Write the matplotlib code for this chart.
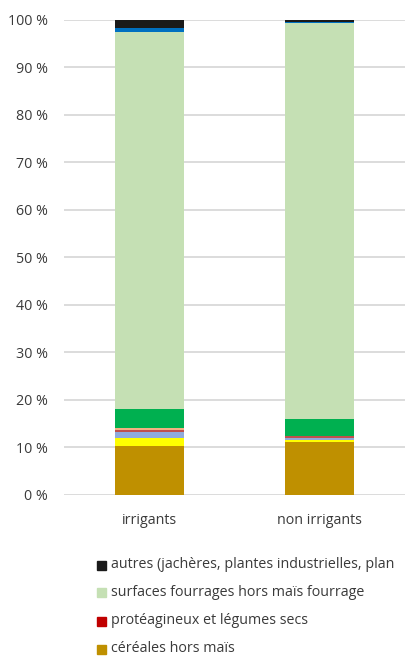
import matplotlib
matplotlib.use("Agg")
import matplotlib.pyplot as plt
import numpy as np

plt.rcParams['font.family'] = ['Open Sans', 'DejaVu Sans']

categories = ["irrigants", "non irrigants"]

series_names = [
    "céréales hors maïs",
    "maïs grain",
    "oléagineux",
    "protéagineux et légumes secs",
    "cultures légumières",
    "maïs fourrage",
    "surfaces fourrages hors maïs fourrage",
    "vignes et vergers",
    "autres (jachères, plantes industrielles, plan",
]
series_colors = ["#BF9000", "#FFFF00", "#8FAADC", "#C0504D", "#F4B183",
                 "#00B050", "#C5E0B4", "#0070C0", "#1A1A1A"]

irrigants = [10.2, 1.7, 1.2, 0.4, 0.6, 3.9, 79.5, 0.7, 1.8]
non_irrigants = [11.0, 0.4, 0.6, 0.3, 0.0, 3.5, 83.6, 0.1, 0.5]

# legend shows only these entries (top to bottom)
legend_items = [8, 6, 3, 0]
legend_colors = {3: "#C00000"}

text_col = "#3A3A3A"

fig = plt.figure(figsize=(4.06, 6.57), dpi=100)
ax = fig.add_axes([64 / 406, 1 - 494.5 / 657, 341 / 406, (494.5 - 19.7) / 657])

x = np.arange(len(categories))
data = np.array([irrigants, non_irrigants])
bottom = np.zeros(len(categories))
for i, name in enumerate(series_names):
    ax.bar(x, data[:, i], width=0.406, bottom=bottom, color=series_colors[i],
           edgecolor="none", zorder=3, label=name)
    bottom += data[:, i]

ax.set_xlim(-0.5, 1.5)
ax.set_ylim(0, 100)
ax.set_yticks(range(0, 101, 10))
ax.set_yticklabels([f"{v} %" for v in range(0, 101, 10)])
ax.set_xticks(x)
ax.set_xticklabels(categories)
ax.yaxis.grid(True, color="#D9D9D9", linewidth=1.3, zorder=0)
ax.tick_params(axis="both", length=0, colors=text_col, labelsize=10.3)
ax.tick_params(axis="y", pad=11.5)
ax.tick_params(axis="x", pad=13)
for s in ax.spines.values():
    s.set_visible(False)

# legend drawn by hand
ys = [565, 592, 621, 649]
for idx, y in zip(legend_items, ys):
    col = legend_colors.get(idx, series_colors[idx])
    fig.patches.append(plt.Rectangle((97 / 406, 1 - (y + 4.5) / 657), 9 / 406, 9 / 657,
                                     transform=fig.transFigure, color=col))
    fig.text(111 / 406, 1 - y / 657, series_names[idx], fontsize=10.3,
             color=text_col, va="center", ha="left")

fig.savefig("out.png", dpi=100)
